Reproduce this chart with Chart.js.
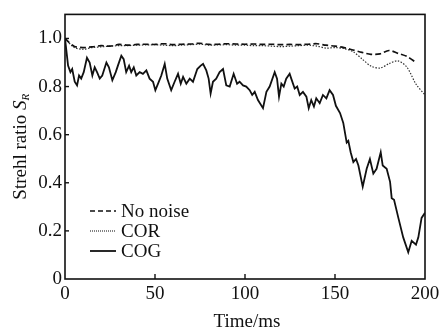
<!DOCTYPE html>
<html>
<head>
<meta charset="utf-8">
<script src="https://cdn.jsdelivr.net/npm/chart.js@4/dist/chart.umd.min.js"></script>
<style>
  html, body { margin: 0; padding: 0; background: #fff; }
  #wrap { width: 446px; height: 329px; }
</style>
</head>
<body>
<div id="wrap"><canvas id="chart" width="446" height="329"></canvas></div>
<script>
// Time axis (ms) for the smooth curves
const smoothTime = [0, 5, 10, 15, 20, 25, 30, 35, 40, 45, 50, 55, 60, 65, 70, 75, 80, 85, 90, 95,
  100, 105, 110, 115, 120, 125, 130, 135, 140, 145, 150, 155, 160, 165, 170, 175, 180, 185, 190, 195, 200];

// No noise (dashed), ends near 195 ms
const noNoiseValues = [1.0, 0.968, 0.962, 0.965, 0.97, 0.968, 0.975, 0.972, 0.975, 0.976, 0.975, 0.978, 0.974, 0.976, 0.977, 0.98, 0.975, 0.976, 0.978, 0.977,
  0.976, 0.977, 0.975, 0.976, 0.974, 0.975, 0.974, 0.976, 0.978, 0.972, 0.968, 0.962, 0.952, 0.942, 0.934, 0.936, 0.95, 0.938, 0.925, 0.9];

// COR (dotted)
const corValues = [1.0, 0.963, 0.955, 0.962, 0.965, 0.968, 0.97, 0.97, 0.972, 0.973, 0.974, 0.972, 0.97, 0.972, 0.974, 0.976, 0.972, 0.973, 0.974, 0.972,
  0.972, 0.97, 0.97, 0.968, 0.966, 0.968, 0.97, 0.972, 0.968, 0.96, 0.962, 0.958, 0.945, 0.915, 0.885, 0.877, 0.895, 0.907, 0.88, 0.81, 0.765];

// COG (solid)
const cogTime = [0, 1.7, 3, 4, 5.4, 6.7, 7.8, 9, 10.4, 12.2,
  13.7, 15.2, 16.5, 17.8, 19.3, 20.7, 23, 24.4, 26.3, 28.2,
  29.4, 31.3, 32.6, 34, 35.6, 36.8, 38.2, 39.6, 41.5, 43.3,
  45.2, 47, 48.9, 50.2, 51.7, 53.5, 55.4, 56.8, 59, 60.9,
  62.8, 64.3, 65.6, 67.4, 69.3, 71.1, 73.5, 75.4, 76.7, 78.5,
  79.8, 80.9, 82.2, 84, 85.9, 87.8, 89.6, 91.5, 93.7, 95.6,
  97, 98.9, 100.7, 102.6, 104, 105.4, 107.2, 110, 111.9, 113.7,
  116.5, 117.8, 118.9, 120.2, 121.5, 122.9, 124.8, 125.7, 127.6, 129,
  130.4, 132.2, 134.1, 135.4, 136.8, 138.3, 139.6, 141.5, 143.3, 145.2,
  147, 148.9, 150.5, 152.8, 154.6, 156.5, 157.4, 158.7, 160.2, 161.7,
  163, 165.4, 167.6, 169.4, 171.3, 173.1, 175.4, 176.5, 178.7, 180.6,
  181.5, 182.8, 185.2, 187.9, 190.7, 192.6, 195, 196.3, 198.1, 200];
const cogValues = [1.0, 0.887, 0.86, 0.873, 0.82, 0.805, 0.846, 0.833, 0.86, 0.92,
  0.90, 0.846, 0.88, 0.86, 0.833, 0.846, 0.90, 0.88, 0.826, 0.86,
  0.887, 0.928, 0.914, 0.86, 0.887, 0.86, 0.88, 0.846, 0.86, 0.853,
  0.867, 0.833, 0.82, 0.785, 0.812, 0.846, 0.894, 0.833, 0.785, 0.82,
  0.853, 0.812, 0.84, 0.812, 0.833, 0.82, 0.873, 0.887, 0.894, 0.867,
  0.833, 0.771, 0.82, 0.833, 0.86, 0.873, 0.805, 0.80, 0.853, 0.812,
  0.82, 0.805, 0.80, 0.785, 0.765, 0.778, 0.744, 0.71, 0.778, 0.80,
  0.86, 0.833, 0.758, 0.812, 0.80, 0.833, 0.853, 0.833, 0.792, 0.80,
  0.765, 0.778, 0.758, 0.71, 0.744, 0.717, 0.751, 0.731, 0.765, 0.751,
  0.785, 0.765, 0.72, 0.69, 0.649, 0.567, 0.574, 0.527, 0.486, 0.499,
  0.472, 0.384, 0.458, 0.499, 0.438, 0.458, 0.527, 0.472, 0.458, 0.404,
  0.336, 0.329, 0.254, 0.173, 0.111, 0.159, 0.143, 0.173, 0.254, 0.275];

const xTicks = [0, 50, 100, 150, 200];
const yTicks = [0, 0.2, 0.4, 0.6, 0.8, 1.0];
const seriesNames = ['No noise', 'COR', 'COG'];

const FONT = "'Liberation Serif', 'Times New Roman', serif";
const INK = '#111';

function toPoints(xs, ys) {
  return ys.map((y, i) => ({ x: xs[i], y }));
}

// Frame, inward ticks, axis titles and the in-plot legend
const decorPlugin = {
  id: 'decor',
  afterDraw(chart) {
    const ctx = chart.ctx;
    const a = chart.chartArea;
    const xs = chart.scales.x;
    const ys = chart.scales.y;
    ctx.save();
    ctx.strokeStyle = INK;
    ctx.lineWidth = 1.6;
    ctx.setLineDash([]);
    ctx.strokeRect(a.left, a.top, a.right - a.left, a.bottom - a.top);

    ctx.lineWidth = 1.4;
    xTicks.slice(1, -1).forEach((t) => {
      const px = xs.getPixelForValue(t);
      ctx.beginPath();
      ctx.moveTo(px, a.bottom);
      ctx.lineTo(px, a.bottom - 5);
      ctx.stroke();
    });
    yTicks.slice(1).forEach((t) => {
      const py = ys.getPixelForValue(t);
      ctx.beginPath();
      ctx.moveTo(a.left, py);
      ctx.lineTo(a.left + 4, py);
      ctx.stroke();
    });

    // x title
    ctx.fillStyle = INK;
    ctx.font = '19px ' + FONT;
    ctx.textAlign = 'center';
    ctx.textBaseline = 'alphabetic';
    ctx.fillText('Time/ms', (a.left + a.right) / 2 + 2, 327);

    // y title with italic S and subscript R
    ctx.save();
    ctx.translate(26, (a.top + a.bottom) / 2);
    ctx.rotate(-Math.PI / 2);
    const main = 'Strehl ratio ';
    ctx.font = '19px ' + FONT;
    const w1 = ctx.measureText(main).width;
    ctx.font = 'italic 19px ' + FONT;
    const w2 = ctx.measureText('S').width;
    ctx.font = 'italic 11px ' + FONT;
    const w3 = ctx.measureText('R').width;
    let x0 = -(w1 + w2 + w3) / 2;
    ctx.textAlign = 'left';
    ctx.font = '19px ' + FONT;
    ctx.fillText(main, x0, 0);
    ctx.font = 'italic 19px ' + FONT;
    ctx.fillText('S', x0 + w1, 0);
    ctx.font = 'italic 11px ' + FONT;
    ctx.fillText('R', x0 + w1 + w2, 3);
    ctx.restore();

    // legend
    const rows = [211, 231, 251];
    chart.data.datasets.forEach((ds, i) => {
      const y = rows[i];
      ctx.strokeStyle = ds.borderColor;
      ctx.lineWidth = ds.borderWidth;
      ctx.setLineDash(ds.legendDash);
      ctx.beginPath();
      ctx.moveTo(90, y);
      ctx.lineTo(116, y);
      ctx.stroke();
      ctx.setLineDash([]);
      ctx.fillStyle = INK;
      ctx.font = '19px ' + FONT;
      ctx.textAlign = 'left';
      ctx.textBaseline = 'middle';
      ctx.fillText(ds.label, 121, y + 1);
    });
    ctx.restore();
  },
};

new Chart(document.getElementById('chart'), {
  type: 'line',
  data: {
    datasets: [
      {
        label: seriesNames[0],
        data: toPoints(smoothTime, noNoiseValues),
        borderColor: INK,
        borderWidth: 1.7,
        borderDash: [6, 3],
        legendDash: [5, 3],
        pointRadius: 0,
        tension: 0.3,
      },
      {
        label: seriesNames[1],
        data: toPoints(smoothTime, corValues),
        borderColor: '#333',
        borderWidth: 1.2,
        borderDash: [1.5, 1.5],
        legendDash: [1, 1],
        pointRadius: 0,
        tension: 0.3,
      },
      {
        label: seriesNames[2],
        data: toPoints(cogTime, cogValues),
        borderColor: INK,
        borderWidth: 1.8,
        borderDash: [],
        legendDash: [],
        pointRadius: 0,
        tension: 0,
      },
    ],
  },
  options: {
    responsive: false,
    animation: false,
    devicePixelRatio: 1,
    layout: { padding: { left: 0, right: 21, top: 11, bottom: 0 } },
    plugins: {
      legend: { display: false },
      tooltip: { enabled: false },
    },
    scales: {
      x: {
        type: 'linear',
        min: 0,
        max: 200,
        afterFit: (scale) => { scale.height = 50; },
        afterBuildTicks: (scale) => { scale.ticks = xTicks.map((v) => ({ value: v })); },
        grid: { display: false, drawTicks: false },
        border: { display: false },
        ticks: {
          color: INK,
          padding: 4,
          maxRotation: 0,
          font: { family: FONT, size: 19 },
          callback: (v) => String(v),
        },
      },
      y: {
        min: 0,
        max: 1.1,
        afterFit: (scale) => { scale.width = 65; },
        afterBuildTicks: (scale) => { scale.ticks = yTicks.map((v) => ({ value: v })); },
        grid: { display: false, drawTicks: false },
        border: { display: false },
        ticks: {
          color: INK,
          padding: 3,
          font: { family: FONT, size: 19 },
          callback: (v) => (v === 0 ? '0' : v.toFixed(1)),
        },
      },
    },
  },
  plugins: [decorPlugin],
});
</script>
</body>
</html>
